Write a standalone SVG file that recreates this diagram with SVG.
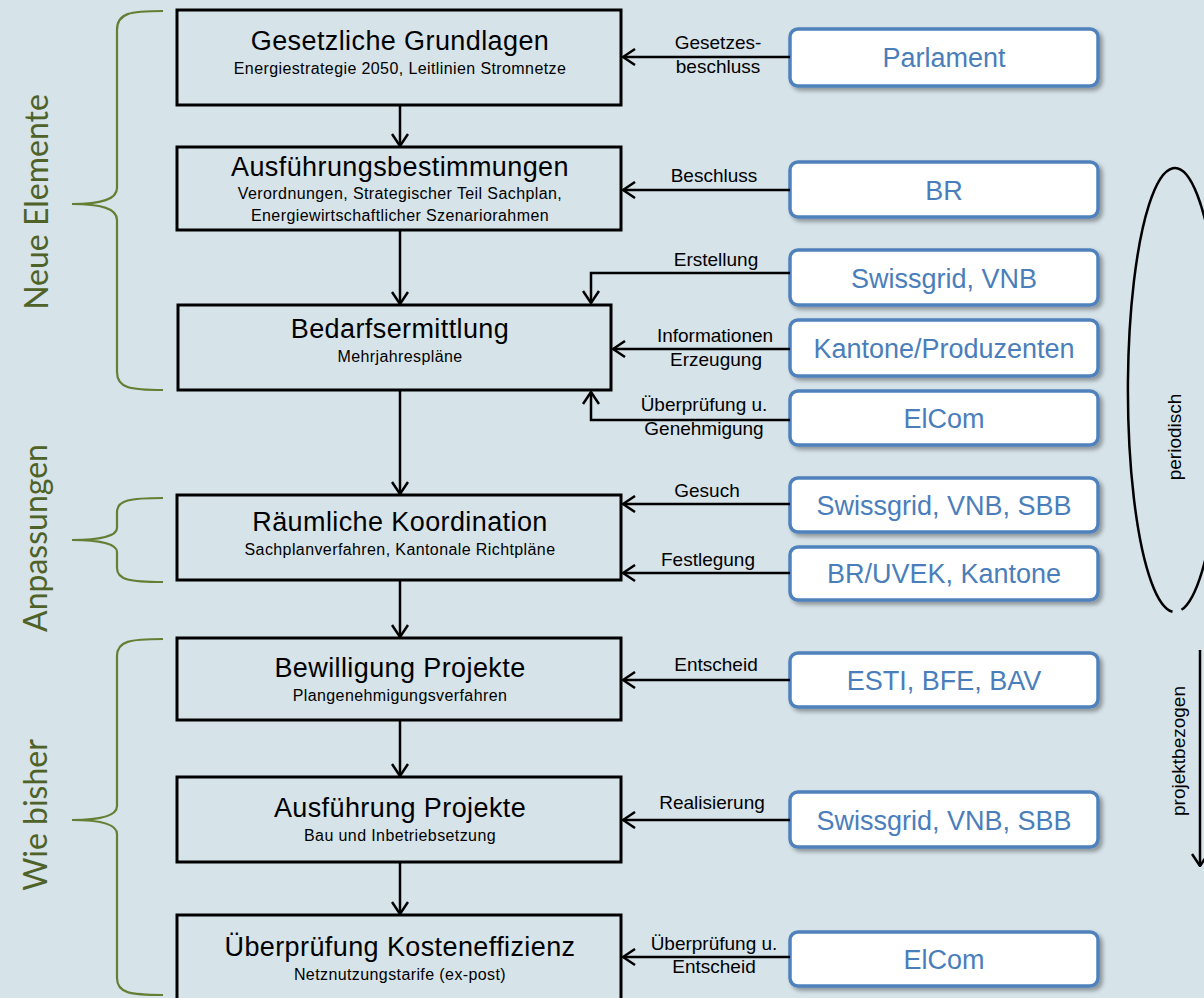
<svg xmlns="http://www.w3.org/2000/svg" width="1204" height="998" viewBox="0 0 1204 998">
<style>
.bg{fill:#d6e3e9}
.box{fill:none;stroke:#000;stroke-width:3}
.rbox{fill:#fff;stroke:#4f81bd;stroke-width:3.5}
.t{font-family:"Liberation Sans",Arial,sans-serif;font-size:27px;letter-spacing:0.4px;text-anchor:middle;fill:#000}
.s{font-family:"Liberation Sans",Arial,sans-serif;font-size:16px;letter-spacing:0.4px;text-anchor:middle;fill:#000}
.r{font-family:"Liberation Sans",Arial,sans-serif;font-size:27px;text-anchor:middle;fill:#4a7ebb}
.l{font-family:"Liberation Sans",Arial,sans-serif;font-size:19px;text-anchor:middle;fill:#000}
.g{font-family:Lato,"Open Sans",sans-serif;font-size:32px;text-anchor:middle;fill:#4f6228}
.br{fill:none;stroke:#647f34;stroke-width:2.2}
.c{fill:none;stroke:#000;stroke-width:2.5}
</style>
<defs>
<marker id="arr" viewBox="0 0 14 18" refX="13" refY="9" markerWidth="14" markerHeight="18" markerUnits="userSpaceOnUse" orient="auto">
<path d="M1,1 L13,9 L1,17" fill="none" stroke="#000" stroke-width="2.5"/>
</marker>
<filter id="sh" x="-10%" y="-20%" width="125%" height="150%">
<feDropShadow dx="3" dy="3" stdDeviation="2" flood-color="#000" flood-opacity="0.35"/>
</filter>
</defs>
<rect class="bg" x="0" y="0" width="1204" height="998"/>

<g id="braces">
<path class="br" d="M163,11 C130,11 117,13 117,30 L117,188 C117,200 100,204 72,204 C100,204 117,208 117,220 L117,372 C117,388 130,390 163,390"/>
<path class="br" d="M163,498 C130,498 117,500 117,512 L117,528 C117,536 100,540 72,540 C100,540 117,544 117,552 L117,568 C117,580 130,582 163,582"/>
<path class="br" d="M163,639 C130,639 117,641 117,656 L117,806 C117,816 100,820 72,820 C100,820 117,824 117,834 L117,978 C117,993 130,995 163,995"/>
<text class="g" transform="translate(48,202) rotate(-90)">Neue Elemente</text>
<text class="g" transform="translate(47,538) rotate(-90)">Anpassungen</text>
<text class="g" transform="translate(47,815) rotate(-90)">Wie bisher</text>
</g>

<g id="n1"><rect class="box" x="177" y="10" width="444" height="95"/><text class="t" x="400" y="50">Gesetzliche Grundlagen</text><text class="s" x="400" y="74">Energiestrategie 2050, Leitlinien Stromnetze</text></g>
<g id="n2"><rect class="box" x="177" y="147" width="444" height="83"/><text class="t" x="400" y="176">Ausführungsbestimmungen</text><text class="s" x="400" y="199">Verordnungen, Strategischer Teil Sachplan,</text><text class="s" x="400" y="221">Energiewirtschaftlicher Szenariorahmen</text></g>
<g id="n3"><rect class="box" x="178" y="305" width="433" height="85"/><text class="t" x="400" y="338">Bedarfsermittlung</text><text class="s" x="400" y="362">Mehrjahrespläne</text></g>
<g id="n4"><rect class="box" x="177" y="495" width="444" height="85"/><text class="t" x="400" y="531">Räumliche Koordination</text><text class="s" x="400" y="555">Sachplanverfahren, Kantonale Richtpläne</text></g>
<g id="n5"><rect class="box" x="177" y="638" width="444" height="82"/><text class="t" x="400" y="677">Bewilligung Projekte</text><text class="s" x="400" y="701">Plangenehmigungsverfahren</text></g>
<g id="n6"><rect class="box" x="177" y="777" width="444" height="85"/><text class="t" x="400" y="817">Ausführung Projekte</text><text class="s" x="400" y="841">Bau und Inbetriebsetzung</text></g>
<g id="n7"><rect class="box" x="177" y="915" width="444" height="100"/><text class="t" x="400" y="956">Überprüfung Kosteneffizienz</text><text class="s" x="400" y="980">Netznutzungstarife (ex-post)</text></g>

<g id="r1"><rect class="rbox" filter="url(#sh)" x="790" y="29" width="308" height="57" rx="8"/><text class="r" x="944" y="67">Parlament</text></g>
<g id="r2"><rect class="rbox" filter="url(#sh)" x="790" y="162" width="308" height="55" rx="8"/><text class="r" x="944" y="200">BR</text></g>
<g id="r3"><rect class="rbox" filter="url(#sh)" x="790" y="250" width="308" height="55" rx="8"/><text class="r" x="944" y="288">Swissgrid, VNB</text></g>
<g id="r4"><rect class="rbox" filter="url(#sh)" x="790" y="320" width="308" height="56" rx="8"/><text class="r" x="944" y="358">Kantone/Produzenten</text></g>
<g id="r5"><rect class="rbox" filter="url(#sh)" x="790" y="391" width="308" height="54" rx="8"/><text class="r" x="944" y="428">ElCom</text></g>
<g id="r6"><rect class="rbox" filter="url(#sh)" x="790" y="478" width="308" height="54" rx="8"/><text class="r" x="944" y="515">Swissgrid, VNB, SBB</text></g>
<g id="r7"><rect class="rbox" filter="url(#sh)" x="790" y="547" width="308" height="53" rx="8"/><text class="r" x="944" y="583">BR/UVEK, Kantone</text></g>
<g id="r8"><rect class="rbox" filter="url(#sh)" x="790" y="653" width="308" height="54" rx="8"/><text class="r" x="944" y="690">ESTI, BFE, BAV</text></g>
<g id="r9"><rect class="rbox" filter="url(#sh)" x="790" y="792" width="308" height="55" rx="8"/><text class="r" x="944" y="830">Swissgrid, VNB, SBB</text></g>
<g id="r10"><rect class="rbox" filter="url(#sh)" x="790" y="932" width="308" height="54" rx="8"/><text class="r" x="944" y="969">ElCom</text></g>

<g id="connectors">
<line class="c" x1="400" y1="105" x2="400" y2="146" marker-end="url(#arr)"/>
<line class="c" x1="400" y1="230" x2="400" y2="304" marker-end="url(#arr)"/>
<line class="c" x1="400" y1="390" x2="400" y2="494" marker-end="url(#arr)"/>
<line class="c" x1="400" y1="580" x2="400" y2="637" marker-end="url(#arr)"/>
<line class="c" x1="400" y1="720" x2="400" y2="776" marker-end="url(#arr)"/>
<line class="c" x1="400" y1="862" x2="400" y2="914" marker-end="url(#arr)"/>

<line class="c" x1="790" y1="57" x2="623" y2="57" marker-end="url(#arr)"/>
<line class="c" x1="790" y1="190" x2="623" y2="190" marker-end="url(#arr)"/>
<polyline class="c" points="790,273 591,273 591,303" marker-end="url(#arr)"/>
<line class="c" x1="790" y1="349" x2="613" y2="349" marker-end="url(#arr)"/>
<polyline class="c" points="790,420 591,420 591,392" marker-end="url(#arr)"/>
<line class="c" x1="790" y1="504" x2="623" y2="504" marker-end="url(#arr)"/>
<line class="c" x1="790" y1="573" x2="623" y2="573" marker-end="url(#arr)"/>
<line class="c" x1="790" y1="680" x2="623" y2="680" marker-end="url(#arr)"/>
<line class="c" x1="790" y1="820" x2="623" y2="820" marker-end="url(#arr)"/>
<line class="c" x1="790" y1="957" x2="623" y2="957" marker-end="url(#arr)"/>

<text class="l" x="718" y="49">Gesetzes-</text>
<text class="l" x="718" y="73">beschluss</text>
<text class="l" x="714" y="182">Beschluss</text>
<text class="l" x="716" y="266">Erstellung</text>
<text class="l" x="715" y="342">Informationen</text>
<text class="l" x="716" y="366">Erzeugung</text>
<text class="l" x="704" y="411">Überprüfung u.</text>
<text class="l" x="704" y="435">Genehmigung</text>
<text class="l" x="707" y="497">Gesuch</text>
<text class="l" x="708" y="566">Festlegung</text>
<text class="l" x="716" y="671">Entscheid</text>
<text class="l" x="712" y="809">Realisierung</text>
<text class="l" x="714" y="950">Überprüfung u.</text>
<text class="l" x="714" y="973">Entscheid</text>
</g>

<g id="periodisch">
<path class="c" d="M1181.5,609.8 A47,222 0 1 0 1172.5,611.7"/>
<text class="l" transform="translate(1181,437) rotate(-90)">periodisch</text>
</g>
<g id="projektbezogen">
<line class="c" x1="1200" y1="650" x2="1200" y2="866" marker-end="url(#arr)"/>
<text class="l" transform="translate(1185,751) rotate(-90)">projektbezogen</text>
</g>
</svg>
